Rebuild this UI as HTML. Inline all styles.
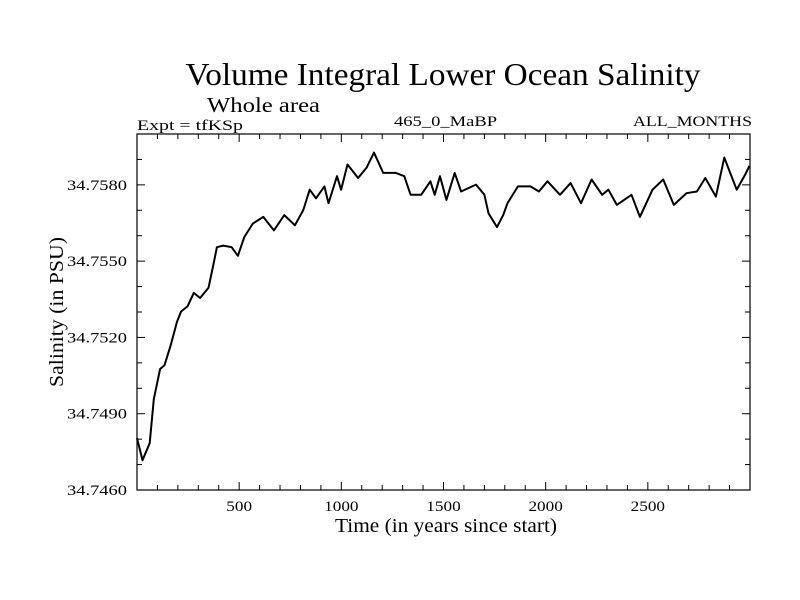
<!DOCTYPE html>
<html><head><meta charset="utf-8"><style>
html,body{margin:0;padding:0;background:#fff;}
svg{display:block;font-family:"Liberation Serif",serif;}
</style></head><body>
<svg id="chart" width="800" height="600">
<text x="443" y="85" font-size="32" text-anchor="middle" textLength="515" lengthAdjust="spacingAndGlyphs">Volume Integral Lower Ocean Salinity</text>
<text x="207" y="112" font-size="21" textLength="113" lengthAdjust="spacingAndGlyphs">Whole area</text>
<text x="137" y="130" font-size="15" textLength="106" lengthAdjust="spacingAndGlyphs">Expt = tfKSp</text>
<text x="394" y="126" font-size="15" textLength="103" lengthAdjust="spacingAndGlyphs">465_0_MaBP</text>
<text x="633" y="126" font-size="15" textLength="119" lengthAdjust="spacingAndGlyphs">ALL_MONTHS</text>
<text x="335" y="532" font-size="20" textLength="222" lengthAdjust="spacingAndGlyphs">Time (in years since start)</text>
<text transform="translate(63,312) rotate(-90)" font-size="20" text-anchor="middle" textLength="150" lengthAdjust="spacingAndGlyphs">Salinity (in PSU)</text>
<g id="axes"></g>
<rect x="137" y="134" width="613" height="356" fill="none" stroke="#000" stroke-width="1.2"/>
</svg>
<script>
const years=[0,27,62,82,113,134,165,196,216,247,278,309,350,371,391,422,463,494,525,567,618,670,721,773,814,845,876,917,937,979,999,1030,1082,1123,1160,1205,1267,1308,1339,1391,1436,1457,1483,1514,1555,1586,1659,1700,1720,1762,1792,1813,1864,1926,1967,2009,2070,2122,2173,2225,2276,2307,2348,2420,2461,2523,2575,2627,2689,2740,2781,2833,2874,2935,2976,2997];
const salinity=[34.74804,34.74717,34.74784,34.74957,34.75076,34.75090,34.75169,34.75262,34.75302,34.75322,34.75375,34.75355,34.75395,34.75475,34.75555,34.75561,34.75555,34.75521,34.75595,34.75648,34.75674,34.75621,34.75681,34.75641,34.75701,34.75781,34.75747,34.75794,34.75728,34.75834,34.75781,34.75880,34.75827,34.75867,34.75927,34.75847,34.75847,34.75834,34.75761,34.75761,34.75814,34.75761,34.75834,34.75741,34.75847,34.75774,34.75801,34.75761,34.75688,34.75634,34.75681,34.75728,34.75794,34.75794,34.75774,34.75814,34.75761,34.75807,34.75728,34.75821,34.75761,34.75781,34.75721,34.75761,34.75674,34.75781,34.75821,34.75721,34.75767,34.75774,34.75827,34.75754,34.75907,34.75781,34.75840,34.75874];
const xTicks=[500,1000,1500,2000,2500];
const yTicks=[34.7460,34.7490,34.7520,34.7550,34.7580];
const X0=137,X1=750,Y0=490,Y1=134,XMIN=0,XMAX=3000,YMIN=34.746,YMAX=34.760;
function sx(v){return X0+(v-XMIN)/(XMAX-XMIN)*(X1-X0);}
function sy(v){return Y0-(v-YMIN)/(YMAX-YMIN)*(Y0-Y1);}
const NS="http://www.w3.org/2000/svg";
const g=document.getElementById('axes');
function mk(t,a){const e=document.createElementNS(NS,t);for(const k in a)e.setAttribute(k,a[k]);g.appendChild(e);return e;}
for(let v=100;v<XMAX;v+=100){
  const major=v%500===0,L=major?8:5;
  const t1=mk('line',{x1:sx(v),x2:sx(v),y1:Y0,y2:Y0-L,stroke:'#000'});
  
  
  const t2=mk('line',{x1:sx(v),x2:sx(v),y1:Y1,y2:Y1+L,stroke:'#000'});
  
  
}
xTicks.forEach(v=>{
  const s=String(v);
  const w=s.length*8.6;
  const t=mk('text',{x:sx(v)-w/2,y:511,'font-size':15,textLength:w,lengthAdjust:'spacingAndGlyphs'});t.textContent=s;
  
  
});
for(let i=1;i<14;i++){
  const v=YMIN+i*0.001,major=i%3===0,L=major?8:5;
  const t1=mk('line',{x1:X0,x2:X0+L,y1:sy(v),y2:sy(v),stroke:'#000'});
  
  
  const t2=mk('line',{x1:X1,x2:X1-L,y1:sy(v),y2:sy(v),stroke:'#000'});
  
  
}
yTicks.forEach(v=>{
  const t=mk('text',{x:67,y:sy(v)+5,'font-size':15,textLength:60,lengthAdjust:'spacingAndGlyphs'});t.textContent=v.toFixed(4);
  
  
});
const d=years.map((x,i)=>(i?'L':'M')+sx(x).toFixed(1)+','+sy(salinity[i]).toFixed(1)).join('');
const p=mk('path',{d:d,fill:'none',stroke:'#000','stroke-width':2,'stroke-linejoin':'round'});


</script>
</body></html>
